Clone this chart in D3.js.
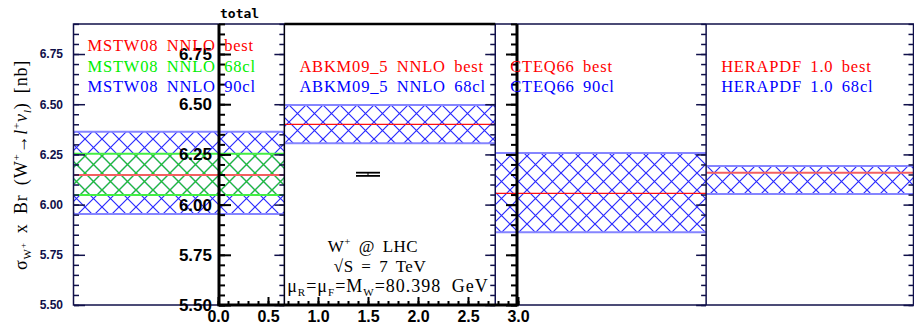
<!DOCTYPE html>
<html>
<head>
<meta charset="utf-8">
<script src="https://cdn.jsdelivr.net/npm/d3@7"></script>
<style>
  body { margin: 0; background: #fff; }
  svg { display: block; }
  .serif { font-family: "Liberation Serif", "DejaVu Serif", serif; }
</style>
</head>
<body>
<div id="chart-area"></div>
<script>
// PDF sets shown as panels
const pdfSets = ["MSTW08 NNLO", "ABKM09_5 NNLO", "CTEQ66", "HERAPDF 1.0"];
const bestVals = [6.147, 6.400, 6.056, 6.159];
const bandLo = [5.953, 6.305, 5.862, 6.053];
const bandHi = [6.363, 6.496, 6.257, 6.192];
const bandTags = ["90cl", "68cl", "90cl", "68cl"];
// extra 68cl band for MSTW08
const mstw68 = [6.048, 6.253];

// "total" inset
const totalX = [1.5];
const totalY = [6.151];
const totalErr = [0.008];

const yTicks = [5.50, 5.75, 6.00, 6.25, 6.50, 6.75];
const xTicksTotal = [0.0, 0.5, 1.0, 1.5, 2.0, 2.5, 3.0];

const W = 914, H = 324;
const navy = "#10104a";

let svg = d3.select("#chart-area").append("svg")
  .attr("width", W).attr("height", H);

// scales
let x = d3.scaleBand().domain(pdfSets).range([73.5, 917]).padding(0);
let y = d3.scaleLinear().domain([5.5, 6.9]).range([305, 23.9]);
let xt = d3.scaleLinear().domain([0, 3]).range([218, 518]);

// hatch patterns (user space so blue and green line up)
let defs = svg.append("defs");
function hatch(id, col) {
  let p = defs.append("pattern")
    .attr("id", id)
    .attr("patternUnits", "userSpaceOnUse")
    .attr("width", 17).attr("height", 17)
    .attr("x", 0).attr("y", 3);
  p.append("path")
    .attr("d", "M-2,-2 L19,19 M19,-2 L-2,19")
    .attr("stroke", col).attr("stroke-width", 1.2).attr("fill", "none");
}
hatch("hb", "#2a2aff");
hatch("hg", "#1fd21f");

// bands
let bands = svg.append("g");
pdfSets.forEach((p, i) => {
  let x0 = x(p), x1 = x(p) + x.bandwidth();
  bands.append("rect")
    .attr("x", x0).attr("width", x.bandwidth())
    .attr("y", y(bandHi[i])).attr("height", y(bandLo[i]) - y(bandHi[i]))
    .attr("fill", "url(#hb)");
  [bandLo[i], bandHi[i]].forEach(v => {
    bands.append("line")
      .attr("x1", x0).attr("x2", x1).attr("y1", y(v)).attr("y2", y(v))
      .attr("stroke", "#8585ff").attr("stroke-width", 2);
  });
});

// MSTW08 68cl band on top
let p0 = pdfSets[0];
bands.append("rect")
  .attr("x", x(p0)).attr("width", x.bandwidth())
  .attr("y", y(mstw68[1])).attr("height", y(mstw68[0]) - y(mstw68[1]))
  .attr("fill", "url(#hg)");
mstw68.forEach(v => {
  bands.append("line")
    .attr("x1", x(p0)).attr("x2", x(p0) + x.bandwidth())
    .attr("y1", y(v)).attr("y2", y(v))
    .attr("stroke", "#44ee44").attr("stroke-width", 2);
});

// best lines
pdfSets.forEach((p, i) => {
  bands.append("line")
    .attr("x1", x(p)).attr("x2", x(p) + x.bandwidth())
    .attr("y1", y(bestVals[i])).attr("y2", y(bestVals[i]))
    .attr("stroke", i % 3 == 0 ? "#f46060" : "#ff1010")
    .attr("stroke-width", i % 3 == 0 ? 2 : 1.3);
});

// minor tick values every 0.05
let minors = d3.range(5.5, 6.9, 0.05).map(v => +v.toFixed(2));

// main frame
svg.append("rect")
  .attr("x", 73.5).attr("y", 24).attr("width", 850).attr("height", 281)
  .attr("fill", "none").attr("stroke", navy).attr("stroke-width", 1.5);

// left axis of first panel (ticks point inward)
let left = svg.append("g").attr("transform", "translate(74,0)");
left.call(d3.axisLeft(y).tickValues(minors).tickSize(-5).tickFormat(""));
left.append("g").call(d3.axisLeft(y).tickValues(yTicks).tickSize(-11).tickPadding(11)
  .tickFormat(d3.format(".2f")));
left.selectAll("path.domain").remove();
left.selectAll("line").attr("stroke", navy).attr("stroke-width", 1.5);
left.selectAll("text")
  .attr("font-family", "Liberation Sans, Arial, sans-serif")
  .attr("font-weight", "bold").attr("font-size", 12).attr("fill", navy);

// panel dividers with ticks pointing left
pdfSets.forEach((p, i) => {
  let xr = i == pdfSets.length - 1 ? 913.5 : x(p) + x.bandwidth();
  let g = svg.append("g").attr("transform", `translate(${xr},0)`);
  g.call(d3.axisLeft(y).tickValues(minors).tickSize(5).tickFormat(""));
  g.append("g").call(d3.axisLeft(y).tickValues(yTicks).tickSize(10).tickFormat(""));
  g.selectAll("path.domain").remove();
  g.selectAll("line").attr("stroke", navy).attr("stroke-width", 1.5);
  g.append("line")
    .attr("y1", y(6.9)).attr("y2", y(5.5))
    .attr("stroke", navy).attr("stroke-width", 1.5);
});

// ABKM panel has a dark frame on top / left
let pa = pdfSets[1];
svg.append("line")
  .attr("x1", x(pa)).attr("x2", x(pa) + x.bandwidth())
  .attr("y1", 24).attr("y2", 24)
  .attr("stroke", "#000").attr("stroke-width", 2.5);
svg.append("line")
  .attr("x1", x(pa)).attr("x2", x(pa))
  .attr("y1", 24).attr("y2", 305)
  .attr("stroke", "#000").attr("stroke-width", 1);

// ---- "total" inset ----
let inset = svg.append("g");
let tl = inset.append("g").attr("transform", "translate(219,0)");
tl.call(d3.axisLeft(y).tickValues(minors).tickSize(-6).tickFormat(""));
tl.append("g").call(d3.axisLeft(y).tickValues(yTicks).tickSize(-12).tickPadding(7)
  .tickFormat(d3.format(".2f")));
tl.selectAll("path.domain").remove();
tl.selectAll("line").attr("stroke", "#000").attr("stroke-width", 2);
tl.selectAll("text")
  .attr("font-family", "Liberation Sans, Arial, sans-serif")
  .attr("font-weight", "bold").attr("font-size", 17).attr("fill", "#000");

let tr = inset.append("g").attr("transform", "translate(517,0)");
tr.call(d3.axisLeft(y).tickValues(minors).tickSize(6).tickFormat(""));
tr.append("g").call(d3.axisLeft(y).tickValues(yTicks).tickSize(11).tickFormat(""));
tr.selectAll("path.domain").remove();
tr.selectAll("line").attr("stroke", "#000").attr("stroke-width", 2);

let tb = inset.append("g").attr("transform", "translate(0,305)");
tb.call(d3.axisBottom(xt).tickValues(d3.range(0, 3.01, 0.1)).tickSize(-4).tickFormat(""));
tb.append("g").call(d3.axisBottom(xt).tickValues(xTicksTotal).tickSize(-8).tickPadding(6)
  .tickFormat(d3.format(".1f")));
tb.selectAll("path.domain").remove();
tb.selectAll("line").attr("stroke", "#000").attr("stroke-width", 2);
tb.selectAll("text")
  .attr("font-family", "Liberation Sans, Arial, sans-serif")
  .attr("font-weight", "bold").attr("font-size", 16).attr("fill", "#000");

// inset axis lines
[[219, 24, 219, 306], [517, 24, 517, 306], [217.5, 305, 518.5, 305]].forEach(l => {
  inset.append("line")
    .attr("x1", l[0]).attr("y1", l[1]).attr("x2", l[2]).attr("y2", l[3])
    .attr("stroke", "#000").attr("stroke-width", 3);
});

inset.append("text")
  .attr("x", 220).attr("y", 18)
  .attr("font-family", "DejaVu Sans Mono, monospace")
  .attr("font-weight", "bold").attr("font-size", 13)
  .text("total");

// total point with error bar
let pts = inset.selectAll(".pt").data(totalX).enter().append("g").attr("class", "pt");
pts.each(function (d, i) {
  let g = d3.select(this);
  let cx = xt(d);
  [totalY[i] + totalErr[i], totalY[i] - totalErr[i]].forEach(v => {
    g.append("line")
      .attr("x1", xt(d - 0.12)).attr("x2", xt(d + 0.12))
      .attr("y1", y(v)).attr("y2", y(v))
      .attr("stroke", "#000").attr("stroke-width", 1.8);
  });
  g.append("line")
    .attr("x1", cx).attr("x2", cx)
    .attr("y1", y(totalY[i] + totalErr[i])).attr("y2", y(totalY[i] - totalErr[i]))
    .attr("stroke", "#000").attr("stroke-width", 1);
});

// legends per panel
let leg = svg.append("g").attr("class", "serif")
  .attr("font-size", 16.5).attr("letter-spacing", 0.8).attr("word-spacing", 3.5);
pdfSets.forEach((p, i) => {
  let lx = x(p) + 15;
  if (i == 0) {
    leg.append("text").attr("x", lx - 1).attr("y", 51).attr("fill", "#ff0000").text(p + " best");
    leg.append("text").attr("x", lx - 1).attr("y", 71.5).attr("fill", "#00ee00").text(p + " 68cl");
    leg.append("text").attr("x", lx - 1).attr("y", 92).attr("fill", "#0000ff").text(p + " 90cl");
  } else {
    leg.append("text").attr("x", lx).attr("y", 71.5).attr("fill", "#ff0000").text(p + " best");
    leg.append("text").attr("x", lx).attr("y", 92).attr("fill", "#0000ff").text(p + " " + bandTags[i]);
  }
});

// process info
let info = svg.append("g").attr("class", "serif")
  .attr("font-size", 17).attr("letter-spacing", 0.5).attr("word-spacing", 3)
  .attr("text-anchor", "middle").attr("fill", "#000");
let t1 = info.append("text").attr("x", 373).attr("y", 252);
t1.append("tspan").text("W");
t1.append("tspan").attr("font-size", 11).attr("dy", -7).text("+");
t1.append("tspan").attr("dy", 7).text(" @ LHC");
info.append("text").attr("x", 380).attr("y", 272).text("\u221AS = 7 TeV");
let t3 = info.append("text").attr("x", 388).attr("y", 292)
  .attr("font-size", 18).attr("letter-spacing", 1);
t3.append("tspan").text("\u03BC");
t3.append("tspan").attr("font-size", 11).attr("dy", 4).text("R");
t3.append("tspan").attr("dy", -4).text("=\u03BC");
t3.append("tspan").attr("font-size", 11).attr("dy", 4).text("F");
t3.append("tspan").attr("dy", -4).text("=M");
t3.append("tspan").attr("font-size", 11).attr("dy", 4).text("W");
t3.append("tspan").attr("dy", -4).attr("word-spacing", 5).text("=80.398 GeV");

// y title
let yt = svg.append("text").attr("class", "serif")
  .attr("transform", "translate(27,165) rotate(-90)")
  .attr("text-anchor", "middle").attr("font-size", 18)
  .attr("letter-spacing", 0.8).attr("word-spacing", 4)
  .attr("fill", "#000");
yt.append("tspan").text("\u03C3");
yt.append("tspan").attr("font-size", 11).attr("dy", 4).text("W");
yt.append("tspan").attr("font-size", 9).attr("dy", -5).text("+");
yt.append("tspan").attr("dy", 1).text(" x Br (W");
yt.append("tspan").attr("font-size", 11).attr("dy", -7).text("+");
yt.append("tspan").attr("dy", 7).text("\u2192");
yt.append("tspan").attr("font-style", "italic").text("l");
yt.append("tspan").attr("font-size", 11).attr("dy", -7).text("+");
yt.append("tspan").attr("dy", 7).attr("font-style", "italic").text("\u03BD");
yt.append("tspan").attr("font-size", 11).attr("dy", 4).attr("font-style", "italic").text("l");
yt.append("tspan").attr("dy", -4).text(") [nb]");
</script>
</body>
</html>
